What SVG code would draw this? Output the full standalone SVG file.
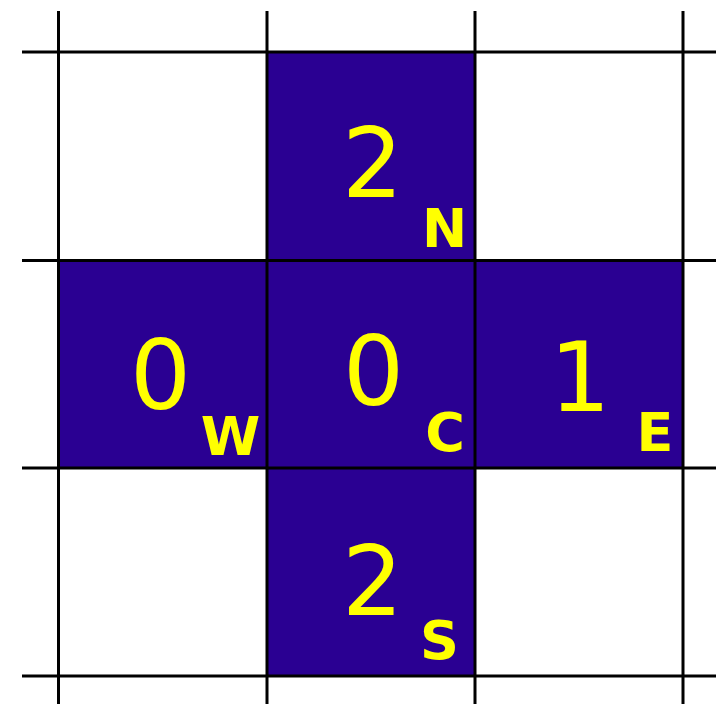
<svg xmlns="http://www.w3.org/2000/svg" width="716" height="704" viewBox="0 0 716 704">
<style>
.cell{fill:#2a0092}
.num{font-family:"DejaVu Sans",sans-serif;font-size:96px;fill:#ffff00;text-anchor:middle}
.sub{font-family:"DejaVu Sans",sans-serif;font-weight:bold;font-size:54px;fill:#ffff00;text-anchor:middle}
.grid line{stroke:#000;stroke-width:3}
</style>
<rect width="716" height="704" fill="#fff"/>
<g id="north">
<rect class="cell" x="267" y="52" width="208" height="208.5"/>
<text class="num" x="372.5" y="197">2</text>
<text class="sub" x="444.5" y="247">N</text>
</g>
<g id="west">
<rect class="cell" x="58.5" y="260.5" width="208.5" height="207.5"/>
<text class="num" x="160.5" y="409">0</text>
<text class="sub" x="230.5" y="455">W</text>
</g>
<g id="center">
<rect class="cell" x="267" y="260.5" width="208" height="207.5"/>
<text class="num" x="373.5" y="405">0</text>
<text class="sub" x="445" y="451">C</text>
</g>
<g id="east">
<rect class="cell" x="475" y="260.5" width="208" height="207.5"/>
<text class="num" x="580" y="411">1</text>
<text class="sub" x="655" y="451">E</text>
</g>
<g id="south">
<rect class="cell" x="267" y="468" width="208" height="208"/>
<text class="num" x="372.5" y="615">2</text>
<text class="sub" x="439.5" y="659">S</text>
</g>
<g id="grid" class="grid">
<line x1="58.5" y1="11" x2="58.5" y2="704"/>
<line x1="267" y1="11" x2="267" y2="704"/>
<line x1="475" y1="11" x2="475" y2="704"/>
<line x1="683" y1="11" x2="683" y2="704"/>
<line x1="22" y1="52" x2="716" y2="52"/>
<line x1="22" y1="260.5" x2="716" y2="260.5"/>
<line x1="22" y1="468" x2="716" y2="468"/>
<line x1="22" y1="676" x2="716" y2="676"/>
</g>
</svg>
